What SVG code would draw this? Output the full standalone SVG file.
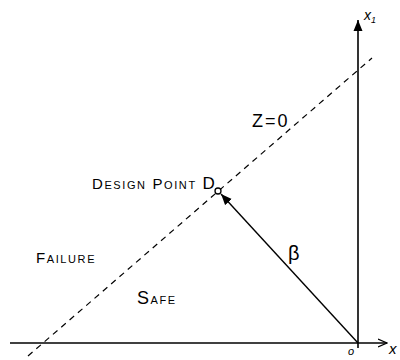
<svg xmlns="http://www.w3.org/2000/svg" width="400" height="360" viewBox="0 0 400 360">
<style>
text{font-family:"Liberation Sans",Arial,sans-serif;fill:#000}
.sc{font-variant:small-caps;font-size:15px;letter-spacing:1.6px}
.ax{stroke:#000;stroke-width:1.6;fill:none}
</style>
<defs>
<marker id="ah" markerWidth="10" markerHeight="10" refX="9" refY="5" orient="auto" markerUnits="userSpaceOnUse">
<path d="M0,1 L9,5 L0,9" fill="none" stroke="#000" stroke-width="1.3"/>
</marker>
<marker id="ahf" markerWidth="12" markerHeight="10" refX="11" refY="5" orient="auto" markerUnits="userSpaceOnUse">
<path d="M0,0.5 L11,5 L0,9.5 Z" fill="#000"/>
</marker>
</defs>
<rect width="400" height="360" fill="#fff"/>
<g id="connectors">
<line class="ax" x1="10" y1="343" x2="387" y2="343" marker-end="url(#ah)"/>
<line class="ax" x1="358" y1="348" x2="358" y2="20" marker-end="url(#ahf)"/>
<line x1="28" y1="356" x2="372" y2="58" stroke="#000" stroke-width="1.2" stroke-dasharray="6,5"/>
<line x1="358" y1="343" x2="221" y2="194" stroke="#000" stroke-width="1.4" marker-end="url(#ahf)"/>
</g>
<g id="design-point">
<circle cx="218" cy="191" r="3" fill="#fff" stroke="#000" stroke-width="1.3"/>
<text class="sc" x="92" y="189">Design Point <tspan font-size="17">D</tspan></text>
</g>
<g id="limit-state"><text x="252" y="127" font-size="18" letter-spacing="2">Z=0</text></g>
<g id="beta"><text x="288" y="260" font-size="20">β</text></g>
<g id="failure"><text class="sc" x="36" y="263" letter-spacing="2">Failure</text></g>
<g id="safe"><text class="sc" x="137" y="304" letter-spacing="2"><tspan font-size="18">S</tspan>afe</text></g>
<g id="labels">
<text x="364" y="20" font-size="14" font-style="italic">x<tspan font-size="9" dy="3">1</tspan></text>
<text x="389" y="354" font-size="15" font-style="italic">x</text>
<text x="348" y="355" font-size="11" font-style="italic">o</text>
</g>
</svg>
